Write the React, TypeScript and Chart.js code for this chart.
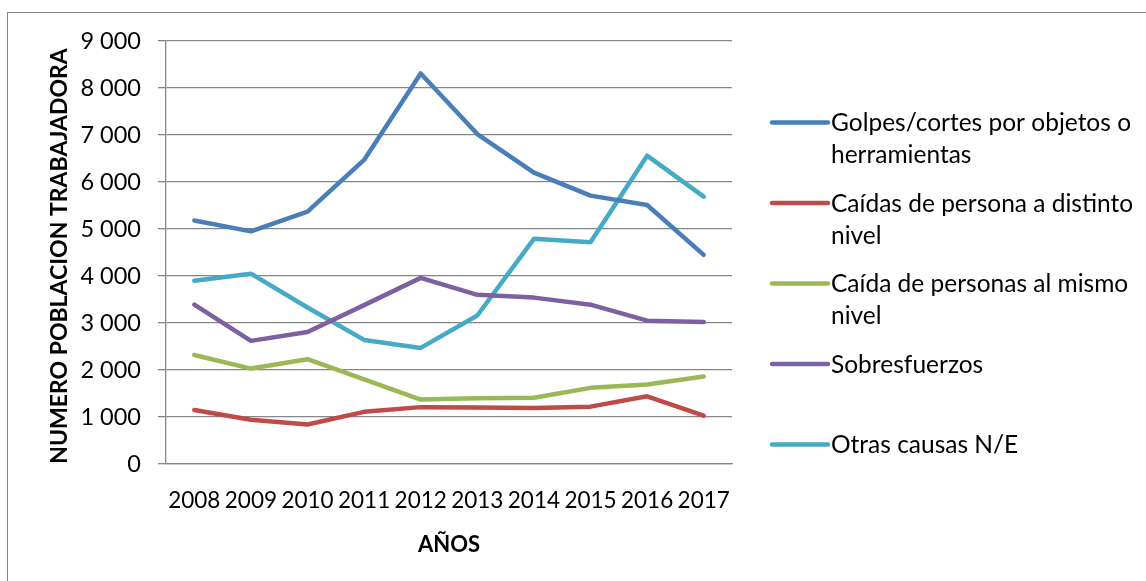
import React, { useEffect, useRef } from "react";
import { Chart, registerables } from "chart.js";

Chart.register(...registerables);

const years = ["2008", "2009", "2010", "2011", "2012", "2013", "2014", "2015", "2016", "2017"];
const golpes = [5180, 4950, 5370, 6470, 8310, 7020, 6200, 5710, 5510, 4450];
const caidasDistinto = [1150, 940, 840, 1110, 1210, 1200, 1190, 1220, 1440, 1030];
const caidasMismo = [2320, 2030, 2230, 1800, 1370, 1400, 1410, 1620, 1690, 1860];
const sobresfuerzos = [3390, 2620, 2810, 3380, 3960, 3600, 3540, 3390, 3050, 3020];
const otras = [3900, 4050, 3330, 2640, 2470, 3160, 4790, 4720, 6560, 5690];

const seriesLabels = [
  "Golpes/cortes por objetos o herramientas",
  "Caídas de persona a distinto nivel",
  "Caída de personas al mismo nivel",
  "Sobresfuerzos",
  "Otras causas N/E",
];
const seriesColors = ["#4A7EBB", "#BE4B48", "#98B954", "#7D60A0", "#46AAC5"];
const yAxisTitle = "NUMERO POBLACION TRABAJADORA";
const xAxisTitle = "AÑOS";
const yMin = 0;
const yMax = 9000;
const yStep = 1000;

const FONT = "Lato, 'Open Sans', sans-serif";

function fmt(v: number): string {
  return String(Math.round(v)).replace(/\B(?=(\d{3})+(?!\d))/g, " ");
}

function wrap(ctx: CanvasRenderingContext2D, text: string, maxW: number): string[] {
  const words = text.split(" ");
  const lines: string[] = [];
  let cur = "";
  for (const w of words) {
    const t = cur ? cur + " " + w : w;
    if (ctx.measureText(t).width > maxW && cur) {
      lines.push(cur);
      cur = w;
    } else cur = t;
  }
  if (cur) lines.push(cur);
  return lines;
}

const decorPlugin = {
  id: "decor",
  afterDraw(chart: any) {
    const ctx: CanvasRenderingContext2D = chart.ctx;
    const area = chart.chartArea;
    ctx.save();
    // outer border
    ctx.strokeStyle = "#868686";
    ctx.lineWidth = 1;
    ctx.strokeRect(7.5, 12.5, 1300, 700);

    // y axis title
    ctx.fillStyle = "#000";
    ctx.font = `bold 23px ${FONT}`;
    ctx.textAlign = "center";
    ctx.textBaseline = "middle";
    ctx.save();
    ctx.translate(60, 256);
    ctx.rotate(-Math.PI / 2);
    ctx.fillText(yAxisTitle, 0, 0);
    ctx.restore();

    // x axis title, centred under the plot area
    ctx.font = `bold 22px ${FONT}`;
    ctx.fillText(xAxisTitle, (area.left + area.right) / 2, 545);

    // legend
    ctx.font = `24.5px ${FONT}`;
    ctx.textAlign = "left";
    const lx0 = 772;
    const lx1 = 828;
    const tx = 831;
    chart.data.datasets.forEach((ds: any, i: number) => {
      const y = 122.5 + i * 80.5;
      ctx.strokeStyle = ds.borderColor;
      ctx.lineWidth = 4.5;
      ctx.lineCap = "round";
      ctx.beginPath();
      ctx.moveTo(lx0, y);
      ctx.lineTo(lx1, y);
      ctx.stroke();
      const lines = wrap(ctx, ds.label, 306);
      ctx.fillStyle = "#000";
      lines.forEach((ln, j) => ctx.fillText(ln, tx, y + 1 + j * 32));
    });
    ctx.restore();
  },
};

export default function App() {
  const ref = useRef<HTMLCanvasElement | null>(null);
  useEffect(() => {
    if (!ref.current) return;
    const data = [golpes, caidasDistinto, caidasMismo, sobresfuerzos, otras];
    const chart = new Chart(ref.current, {
      type: "line",
      data: {
        labels: years,
        datasets: data.map((d, i) => ({
          label: seriesLabels[i],
          data: d,
          borderColor: seriesColors[i],
          backgroundColor: seriesColors[i],
          borderWidth: 4.5,
          pointRadius: 0,
          tension: 0,
          borderCapStyle: "round" as const,
          borderJoinStyle: "round" as const,
          fill: false,
        })),
      },
      options: {
        responsive: false,
        animation: false,
        devicePixelRatio: 1,
        layout: { padding: { left: 0, top: 41, right: 414, bottom: 0 } },
        plugins: { legend: { display: false }, tooltip: { enabled: false }, title: { display: false } },
        scales: {
          x: {
            offset: true,
            grid: { display: false, drawTicks: false },
            border: { display: true, color: "#868686", width: 1.3 },
            ticks: {
              autoSkip: false,
              maxRotation: 0,
              minRotation: 0,
              padding: 23,
              color: "#000",
              font: { family: FONT, size: 22.5 },
            },
            afterFit: (s: any) => {
              s.height = 117;
            },
          },
          y: {
            min: yMin,
            max: yMax,
            ticks: {
              stepSize: yStep,
              padding: 17,
              color: "#000",
              font: { family: FONT, size: 23.5 },
              callback: (v: any) => fmt(Number(v)),
            },
            grid: { color: "#868686", lineWidth: 1.3, tickLength: 8, drawTicks: true },
            border: { display: true, color: "#868686", width: 1.3 },
            afterFit: (s: any) => {
              s.width = 166;
            },
          },
        },
      },
      plugins: [decorPlugin],
    });
    return () => chart.destroy();
  }, []);
  return (
    <div style={{ position: "fixed", left: 0, top: 0, width: 1146, height: 581, background: "#fff" }}>
      <canvas ref={ref} width={1146} height={581} style={{ display: "block" }} />
    </div>
  );
}
